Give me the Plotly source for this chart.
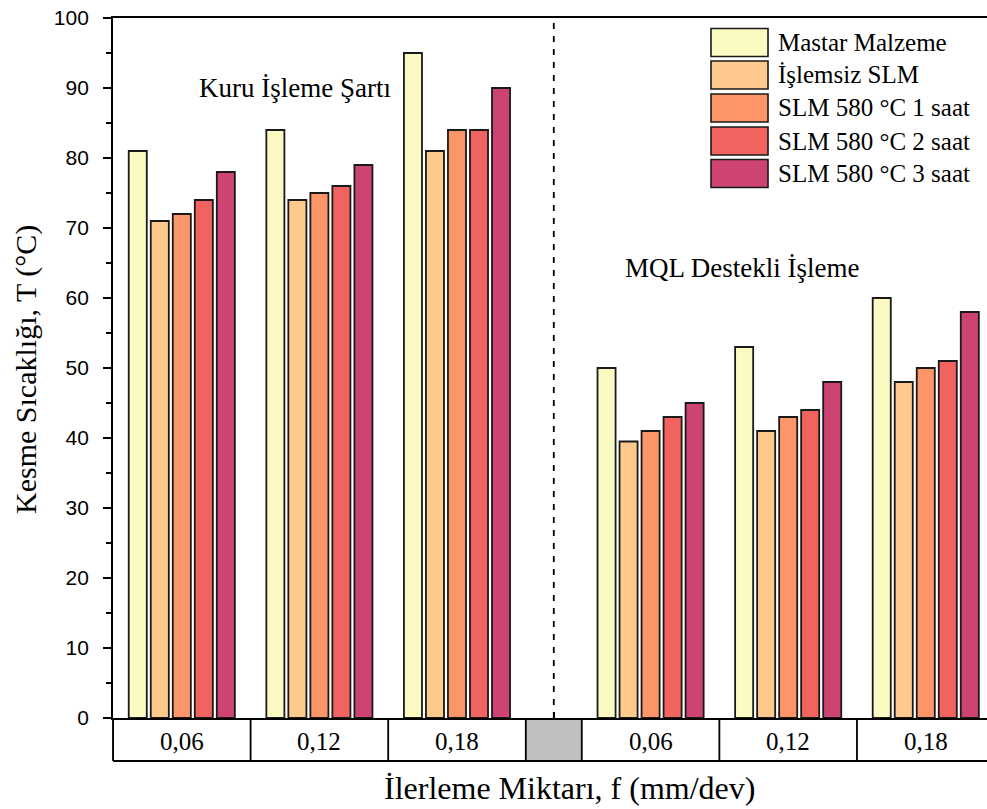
import plotly.graph_objects as go

# ---------------- data ----------------
series_names = ["Mastar Malzeme", "İşlemsiz SLM", "SLM 580 °C 1 saat",
                "SLM 580 °C 2 saat", "SLM 580 °C 3 saat"]
feed_labels = ["0,06", "0,12", "0,18", "0,06", "0,12", "0,18"]
# group positions (dry: 0..2, MQL after a gap)
group_pos = [0, 1, 2, 3.407, 4.407, 5.407]
mastar = [81, 84, 95, 50, 53, 60]
islemsiz = [71, 74, 81, 39.5, 41, 48]
slm1 = [72, 75, 84, 41, 43, 50]
slm2 = [74, 76, 84, 43, 44, 51]
slm3 = [78, 79, 90, 45, 48, 58]
values = [mastar, islemsiz, slm1, slm2, slm3]
colors = ["#fbfac2", "#fec98d", "#fc9669", "#f0635f", "#cc4374"]

SERIF = "Liberation Serif, Times New Roman, serif"
SANS = "Liberation Sans, Arial, sans-serif"

W, H = 987, 809
L, T, R, B = 113, 18, 0, 91
pw, ph = W - L - R, H - T - B

def px(x):
    return (x - L) / pw

def py(y):
    return (H - B - y) / ph

fig = go.Figure()
for name, vals, col in zip(series_names, values, colors):
    fig.add_trace(go.Bar(x=group_pos, y=vals, name=name, marker_color=col,
                         marker_line_color="#1a1a1a", marker_line_width=1.8,
                         showlegend=False))

xmin, xmax = -0.5, 5.852
gap_lo, gap_hi = 2.5, 2.907
divider = (gap_lo + gap_hi) / 2

shapes = []
# table below axis
tb = (H - B - 761) / ph
bounds = [-0.5, 0.5, 1.5, 2.5, 2.907, 3.907, 4.907, 5.907]
shapes.append(dict(type="rect", xref="x", yref="paper", x0=gap_lo, x1=gap_hi,
                   y0=tb, y1=0, fillcolor="#c0c0c0", line=dict(width=0), layer="below"))
for b in bounds:
    if b <= xmax:
        shapes.append(dict(type="line", xref="x", yref="paper", x0=b, x1=b,
                           y0=tb, y1=0, line=dict(color="black", width=1.8)))
shapes.append(dict(type="line", xref="x", yref="paper", x0=xmin, x1=xmax,
                   y0=tb, y1=tb, line=dict(color="black", width=1.8)))
# dashed divider
shapes.append(dict(type="line", xref="x", yref="paper", x0=divider, x1=divider,
                   y0=0, y1=1, line=dict(color="black", width=1.8, dash="6px,7px")))

annotations = []
for lab, gx in zip(feed_labels, group_pos):
    annotations.append(dict(x=gx, y=(H - B - 741) / ph, xref="x", yref="paper",
                            text=lab, showarrow=False, xanchor="center", yanchor="middle",
                            font=dict(family=SERIF, size=25, color="black")))

# manual legend
row_tops = [28.5, 61, 94, 127, 159.5]
for name, col, top in zip(series_names, colors, row_tops):
    shapes.append(dict(type="rect", xref="paper", yref="paper",
                       x0=px(711), x1=px(768), y0=py(top + 28), y1=py(top),
                       fillcolor=col, line=dict(color="#1a1a1a", width=1.6)))
    annotations.append(dict(x=px(776), y=py(top + 14), xref="paper", yref="paper",
                            text=name, showarrow=False, xanchor="left", yanchor="middle",
                            font=dict(family=SERIF, size=25, color="black")))

def center_text(text, x, y, size, angle=0):
    annotations.append(dict(x=px(x), y=py(y), xref="paper", yref="paper",
                            text=text, showarrow=False, xanchor="center",
                            yanchor="middle", textangle=angle,
                            font=dict(family=SERIF, size=size, color="black")))

center_text("Kuru İşleme Şartı", 295, 88, 27)
center_text("MQL Destekli İşleme", 742, 268, 27)
center_text("İlerleme Miktarı, f (mm/dev)", 569, 788, 32)
center_text("Kesme Sıcaklığı, T (°C)", 26, 370, 30, -90)

fig.update_layout(
    width=W, height=H,
    margin=dict(l=L, r=R, t=T, b=B),
    paper_bgcolor="white", plot_bgcolor="white",
    barmode="group", bargap=0.2, bargroupgap=0.18,
    shapes=shapes, annotations=annotations,
    xaxis=dict(range=[xmin, xmax], showgrid=False, zeroline=False,
               showline=True, linecolor="black", linewidth=1.8, mirror=True,
               tickmode="array", tickvals=[divider], ticks="inside", ticklen=6,
               tickwidth=1.8, tickcolor="black", showticklabels=False),
    yaxis=dict(range=[0, 100], showgrid=False, zeroline=False,
               showline=True, linecolor="black", linewidth=1.8,
               tickmode="linear", tick0=0, dtick=10, ticks="outside", ticklen=8,
               tickwidth=1.8, tickcolor="black", ticklabelstandoff=10,
               tickfont=dict(family=SANS, size=21, color="black"),
               minor=dict(dtick=5, ticks="outside", ticklen=5, tickwidth=1.8,
                          tickcolor="black")),
)
# extend the y-axis line down through the table
fig.add_shape(type="line", xref="paper", yref="paper", x0=0, x1=0, y0=tb, y1=0,
              line=dict(color="black", width=1.8))

fig.write_html("out.html")
